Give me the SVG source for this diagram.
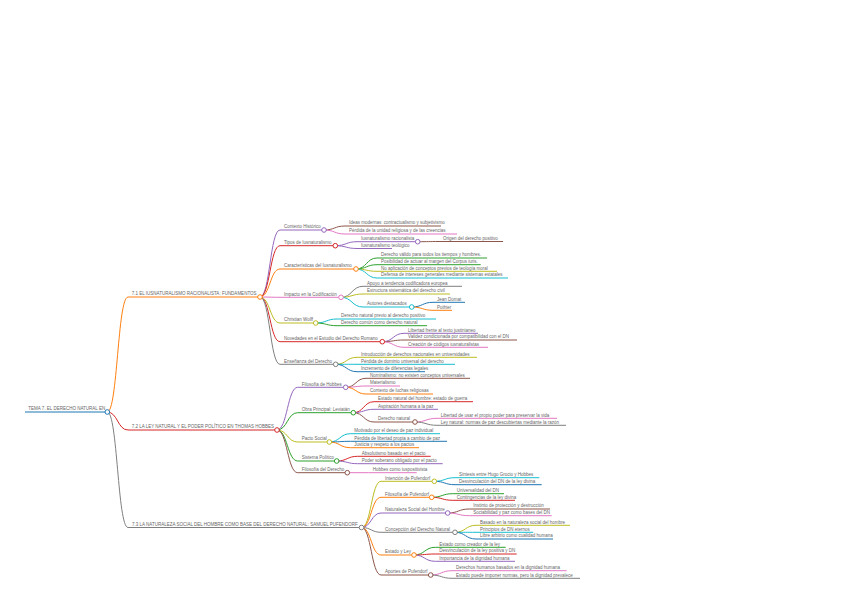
<svg xmlns="http://www.w3.org/2000/svg" width="848" height="599" viewBox="0 0 848 599">
<style>
text{font-family:"Liberation Sans",Arial,sans-serif;font-size:4.5px;fill:#666}
path{fill:none;stroke-width:1}
circle{fill:#fff;stroke-width:1}
.u{stroke:#1f77b4}.o{stroke:#ff7f0e}.g{stroke:#2ca02c}.r{stroke:#d62728}.p{stroke:#9467bd}
.b{stroke:#8c564b}.k{stroke:#e377c2}.y{stroke:#7f7f7f}.v{stroke:#bcbd22}.c{stroke:#17becf}
</style>
<rect width="848" height="599" fill="#fff"/>
<g id="connectors">
<path class="o" d="M107.3 412C117.6 412 117.6 297 128 297"/>
<path class="r" d="M107.3 412C117.6 412 117.6 430 128 430"/>
<path class="y" d="M107.3 412C117.6 412 117.6 527.5 128 527.5"/>
<path class="p" d="M260 297C270 297 270 230 280 230"/>
<path class="r" d="M260 297C270 297 270 245.7 280 245.7"/>
<path class="o" d="M260 297C270 297 270 269 280 269"/>
<path class="k" d="M260 297C270 297 270 297.3 280 297.3"/>
<path class="v" d="M260 297C270 297 270 323 280 323"/>
<path class="r" d="M260 297C270 297 270 341.7 280 341.7"/>
<path class="y" d="M260 297C270 297 270 364.3 280 364.3"/>
<path class="b" d="M324 230C334.5 230 334.5 226 345 226"/>
<path class="k" d="M324 230C334.5 230 334.5 234 345 234"/>
<path class="p" d="M335.3 245.7C346.2 245.7 346.2 241.7 357 241.7"/>
<path class="p" d="M335.3 245.7C346.2 245.7 346.2 248.5 357 248.5"/>
<path class="b" d="M417.7 241.7C428.4 241.7 428.4 241.5 439 241.5"/>
<path class="g" d="M356 269C366.5 269 366.5 258 377 258"/>
<path class="g" d="M356 269C366.5 269 366.5 264.7 377 264.7"/>
<path class="v" d="M356 269C366.5 269 366.5 271.3 377 271.3"/>
<path class="c" d="M356 269C366.5 269 366.5 278 377 278"/>
<path class="y" d="M341 297.3C352 297.3 352 286.3 363 286.3"/>
<path class="v" d="M341 297.3C352 297.3 352 294 363 294"/>
<path class="c" d="M341 297.3C352 297.3 352 307 363 307"/>
<path class="u" d="M411.7 307C422.4 307 422.4 302.3 433 302.3"/>
<path class="o" d="M411.7 307C422.4 307 422.4 310.3 433 310.3"/>
<path class="c" d="M315.7 323C326.4 323 326.4 319 337 319"/>
<path class="g" d="M315.7 323C326.4 323 326.4 325.7 337 325.7"/>
<path class="p" d="M382.3 341.7C393.2 341.7 393.2 333.3 404 333.3"/>
<path class="b" d="M382.3 341.7C393.2 341.7 393.2 340 404 340"/>
<path class="k" d="M382.3 341.7C393.2 341.7 393.2 347.3 404 347.3"/>
<path class="v" d="M335.7 364.3C346.4 364.3 346.4 357.3 357 357.3"/>
<path class="c" d="M335.7 364.3C346.4 364.3 346.4 364.3 357 364.3"/>
<path class="u" d="M335.7 364.3C346.4 364.3 346.4 371.7 357 371.7"/>
<path class="p" d="M277 430C287.4 430 287.4 387.3 297.7 387.3"/>
<path class="g" d="M277 430C287.4 430 287.4 412.7 297.7 412.7"/>
<path class="v" d="M277 430C287.4 430 287.4 442 297.7 442"/>
<path class="g" d="M277 430C287.4 430 287.4 461 297.7 461"/>
<path class="b" d="M277 430C287.4 430 287.4 472.7 297.7 472.7"/>
<path class="b" d="M345.7 387.3C355.9 387.3 355.9 378.3 366 378.3"/>
<path class="k" d="M345.7 387.3C355.9 387.3 355.9 386 366 386"/>
<path class="o" d="M345.7 387.3C355.9 387.3 355.9 394 366 394"/>
<path class="r" d="M353.3 412.7C363.7 412.7 363.7 401.7 374 401.7"/>
<path class="p" d="M353.3 412.7C363.7 412.7 363.7 409.3 374 409.3"/>
<path class="b" d="M353.3 412.7C363.7 412.7 363.7 422 374 422"/>
<path class="k" d="M415 422C426 422 426 418.3 437 418.3"/>
<path class="y" d="M415 422C426 422 426 425.3 437 425.3"/>
<path class="c" d="M329.3 442C339.9 442 339.9 433.7 350.5 433.7"/>
<path class="u" d="M329.3 442C339.9 442 339.9 441.3 350.5 441.3"/>
<path class="o" d="M329.3 442C339.9 442 339.9 447.7 350.5 447.7"/>
<path class="r" d="M336.7 461C347.2 461 347.2 456.3 357.7 456.3"/>
<path class="p" d="M336.7 461C347.2 461 347.2 463.7 357.7 463.7"/>
<path class="k" d="M347.3 472.7H368.7"/>
<path class="v" d="M361.5 527.5C371.3 527.5 371.3 481.3 381 481.3"/>
<path class="o" d="M361.5 527.5C371.3 527.5 371.3 497.3 381 497.3"/>
<path class="p" d="M361.5 527.5C371.3 527.5 371.3 513 381 513"/>
<path class="y" d="M361.5 527.5C371.3 527.5 371.3 532.3 381 532.3"/>
<path class="o" d="M361.5 527.5C371.3 527.5 371.3 555 381 555"/>
<path class="b" d="M361.5 527.5C371.3 527.5 371.3 575 381 575"/>
<path class="c" d="M434.3 481.3C444.7 481.3 444.7 477.7 455 477.7"/>
<path class="u" d="M434.3 481.3C444.7 481.3 444.7 484.7 455 484.7"/>
<path class="g" d="M431.7 497.3C442.2 497.3 442.2 493.7 452.7 493.7"/>
<path class="r" d="M431.7 497.3C442.2 497.3 442.2 500.3 452.7 500.3"/>
<path class="b" d="M447.7 513C458.5 513 458.5 509 469.3 509"/>
<path class="k" d="M447.7 513C458.5 513 458.5 515.7 469.3 515.7"/>
<path class="v" d="M455 532.3C465.5 532.3 465.5 525.3 476 525.3"/>
<path class="c" d="M455 532.3C465.5 532.3 465.5 532.3 476 532.3"/>
<path class="u" d="M455 532.3C465.5 532.3 465.5 539 476 539"/>
<path class="g" d="M414 555C424.7 555 424.7 547.3 435.3 547.3"/>
<path class="r" d="M414 555C424.7 555 424.7 554 435.3 554"/>
<path class="p" d="M414 555C424.7 555 424.7 561.3 435.3 561.3"/>
<path class="k" d="M430.7 575C441.4 575 441.4 570.7 452 570.7"/>
<path class="y" d="M430.7 575C441.4 575 441.4 578.3 452 578.3"/>
</g>
<g id="root"><path class="u" stroke-width="1.5" d="M25 412H107.3"/><text x="28.3" y="410.2">TEMA 7. EL DERECHO NATURAL EN</text><circle class="u" cx="107.3" cy="412" r="2.3"/></g>
<g id="b1"><path class="o" d="M128 297H260"/><text x="131.7" y="295.2">7.1 EL IUSNATURALISMO RACIONALISTA: FUNDAMENTOS</text><circle class="o" cx="260" cy="297" r="2.3"/></g>
<g id="b2"><path class="r" d="M128 430H277"/><text x="131.7" y="428.2">7.2 LA LEY NATURAL Y EL PODER POLÍTICO EN THOMAS HOBBES</text><circle class="r" cx="277" cy="430" r="2.3"/></g>
<g id="b3"><path class="y" d="M128 527.5H361.5"/><text x="132" y="525.7">7.3 LA NATURALEZA SOCIAL DEL HOMBRE COMO BASE DEL DERECHO NATURAL: SAMUEL PUFENDORF</text><circle class="y" cx="361.5" cy="527.5" r="2.3"/></g>

<g id="n-contexto"><path class="p" d="M280 230H324"/><text x="284" y="228.2">Contexto Histórico</text><circle class="p" cx="324" cy="230" r="2.3"/></g>
<g id="n-ideas"><path class="b" d="M345 226H441"/><text x="349" y="224.2">Ideas modernas: contractualismo y subjetivismo</text></g>
<g id="n-perdida1"><path class="k" d="M345 234H457"/><text x="349" y="232.2">Pérdida de la unidad religiosa y de las creencias</text></g>
<g id="n-tipos"><path class="r" d="M280 245.7H335.3"/><text x="284" y="243.9">Tipos de Iusnaturalismo</text><circle class="r" cx="335.3" cy="245.7" r="2.3"/></g>
<g id="n-racional"><path class="p" d="M357 241.7H417.7"/><text x="361" y="239.9">Iusnaturalismo racionalista</text><circle class="p" cx="417.7" cy="241.7" r="2.3"/></g>
<g id="n-origen"><path class="b" d="M439 241.5H503"/><text x="443" y="239.7">Origen del derecho positivo</text></g>
<g id="n-teologico"><path class="p" d="M357 248.5H392"/><text x="361" y="246.7">Iusnaturalismo teológico</text></g>
<g id="n-caract"><path class="o" d="M280 269H356"/><text x="284" y="267.2">Características del Iusnaturalismo</text><circle class="o" cx="356" cy="269" r="2.3"/></g>
<g id="n-valido"><path class="g" d="M377 258H487"/><text x="381" y="256.2">Derecho válido para todos los tiempos y hombres.</text></g>
<g id="n-posib"><path class="g" d="M377 264.7H480.7"/><text x="381" y="262.9">Posibilidad de actuar al margen del Corpus iuris.</text></g>
<g id="n-noapl"><path class="v" d="M377 271.3H497"/><text x="381" y="269.5">No aplicación de conceptos previos de teología moral</text></g>
<g id="n-defensa"><path class="c" d="M377 278H508"/><text x="381" y="276.2">Defensa de intereses generales mediante sistemas estatales</text></g>
<g id="n-impacto"><path class="k" d="M280 297.3H341"/><text x="284" y="295.5">Impacto en la Codificación</text><circle class="k" cx="341" cy="297.3" r="2.3"/></g>
<g id="n-apoyo"><path class="y" d="M363 286.3H462"/><text x="367" y="284.5">Apoyo a tendencia codificadora europea</text></g>
<g id="n-estructura"><path class="v" d="M363 294H450"/><text x="367" y="292.2">Estructura sistemática del derecho civil</text></g>
<g id="n-autores"><path class="c" d="M363 307H411.7"/><text x="367" y="305.2">Autores destacados</text><circle class="c" cx="411.7" cy="307" r="2.3"/></g>
<g id="n-domat"><path class="u" d="M433 302.3H465"/><text x="437" y="300.5">Jean Domat</text></g>
<g id="n-pothier"><path class="o" d="M433 310.3H452"/><text x="437" y="308.5">Pothier</text></g>
<g id="n-wolff"><path class="v" d="M280 323H315.7"/><text x="284" y="321.2">Christian Wolff</text><circle class="v" cx="315.7" cy="323" r="2.3"/></g>
<g id="n-previo"><path class="c" d="M337 319H436"/><text x="341" y="317.2">Derecho natural previo al derecho positivo</text></g>
<g id="n-comun"><path class="g" d="M337 325.7H427"/><text x="341" y="323.9">Derecho común como derecho natural</text></g>
<g id="n-novedades"><path class="r" d="M280 341.7H382.3"/><text x="284" y="339.9">Novedades en el Estudio del Derecho Romano</text><circle class="r" cx="382.3" cy="341.7" r="2.3"/></g>
<g id="n-libertad1"><path class="p" d="M404 333.3H478"/><text x="408" y="331.5">Libertad frente al texto justinianeo</text></g>
<g id="n-validez"><path class="b" d="M404 340H517"/><text x="408" y="338.2">Validez condicionada por compatibilidad con el DN</text></g>
<g id="n-creacion"><path class="k" d="M404 347.3H488"/><text x="408" y="345.5">Creación de códigos iusnaturalistas</text></g>
<g id="n-ensenanza"><path class="y" d="M280 364.3H335.7"/><text x="284" y="362.5">Enseñanza del Derecho</text><circle class="y" cx="335.7" cy="364.3" r="2.3"/></g>
<g id="n-intro"><path class="v" d="M357 357.3H477"/><text x="361" y="355.5">Introducción de derechos nacionales en universidades</text></g>
<g id="n-perdida2"><path class="c" d="M357 364.3H455"/><text x="361" y="362.5">Pérdida de dominio universal del derecho</text></g>
<g id="n-incremento"><path class="u" d="M357 371.7H425"/><text x="361" y="369.9">Incremento de diferencias legales</text></g>

<g id="n-filhobbes"><path class="p" d="M297.7 387.3H345.7"/><text x="301.7" y="385.5">Filosofía de Hobbes</text><circle class="p" cx="345.7" cy="387.3" r="2.3"/></g>
<g id="n-nominal"><path class="b" d="M366 378.3H470"/><text x="370" y="376.5">Nominalismo: no existen conceptos universales</text></g>
<g id="n-material"><path class="k" d="M366 386H400"/><text x="370" y="384.2">Materialismo</text></g>
<g id="n-luchas"><path class="o" d="M366 394H433"/><text x="370" y="392.2">Contexto de luchas religiosas</text></g>
<g id="n-obra"><path class="g" d="M297.7 412.7H353.3"/><text x="301.7" y="410.9">Obra Principal: Leviatán</text><circle class="g" cx="353.3" cy="412.7" r="2.3"/></g>
<g id="n-estadonat"><path class="r" d="M374 401.7H473"/><text x="378" y="399.9">Estado natural del hombre: estado de guerra</text></g>
<g id="n-aspira"><path class="p" d="M374 409.3H438"/><text x="378" y="407.5">Aspiración humana a la paz</text></g>
<g id="n-dnat"><path class="b" d="M374 422H415"/><text x="378" y="420.2">Derecho natural</text><circle class="b" cx="415" cy="422" r="2.3"/></g>
<g id="n-libertad2"><path class="k" d="M437 418.3H557"/><text x="440.7" y="416.5">Libertad de usar el propio poder para preservar la vida</text></g>
<g id="n-leynat"><path class="y" d="M437 425.3H566"/><text x="440.7" y="423.5">Ley natural: normas de paz descubiertas mediante la razón</text></g>
<g id="n-pacto"><path class="v" d="M297.7 442H329.3"/><text x="301.7" y="440.2">Pacto Social</text><circle class="v" cx="329.3" cy="442" r="2.3"/></g>
<g id="n-motivado"><path class="c" d="M350.5 433.7H440"/><text x="354.3" y="431.9">Motivado por el deseo de paz individual</text></g>
<g id="n-perdlib"><path class="u" d="M350.5 441.3H447"/><text x="354.3" y="439.5">Pérdida de libertad propia a cambio de paz</text></g>
<g id="n-justicia"><path class="o" d="M350.5 447.7H419"/><text x="354.3" y="445.9">Justicia y respeto a los pactos</text></g>
<g id="n-sistema"><path class="g" d="M297.7 461H336.7"/><text x="301.7" y="459.2">Sistema Político</text><circle class="g" cx="336.7" cy="461" r="2.3"/></g>
<g id="n-absol"><path class="r" d="M357.7 456.3H430.7"/><text x="361.7" y="454.5">Absolutismo basado en el pacto</text></g>
<g id="n-poder"><path class="p" d="M357.7 463.7H442.7"/><text x="361.7" y="461.9">Poder soberano obligado por el pacto</text></g>
<g id="n-filder"><path class="b" d="M297.7 472.7H347.3"/><text x="301.7" y="470.9">Filosofía del Derecho</text><circle class="b" cx="347.3" cy="472.7" r="2.3"/></g>
<g id="n-iuspos"><path class="k" d="M368.7 472.7H416.7"/><text x="372.7" y="470.9">Hobbes como iuspositivista</text></g>

<g id="n-intencion"><path class="v" d="M381 481.3H434.3"/><text x="385" y="479.5">Intención de Pufendorf</text><circle class="v" cx="434.3" cy="481.3" r="2.3"/></g>
<g id="n-sintesis"><path class="c" d="M455 477.7H539.3"/><text x="459" y="475.9">Síntesis entre Hugo Grocio y Hobbes</text></g>
<g id="n-desv1"><path class="u" d="M455 484.7H541.7"/><text x="459" y="482.9">Desvinculación del DN de la ley divina</text></g>
<g id="n-filpuf"><path class="o" d="M381 497.3H431.7"/><text x="385" y="495.5">Filosofía de Pufendorf</text><circle class="o" cx="431.7" cy="497.3" r="2.3"/></g>
<g id="n-univ"><path class="g" d="M452.7 493.7H504"/><text x="456.7" y="491.9">Universalidad del DN</text></g>
<g id="n-conting"><path class="r" d="M452.7 500.3H515"/><text x="456.7" y="498.5">Contingencias de la ley divina</text></g>
<g id="n-natsoc"><path class="p" d="M381 513H447.7"/><text x="385" y="511.2">Naturaleza Social del Hombre</text><circle class="p" cx="447.7" cy="513" r="2.3"/></g>
<g id="n-instinto"><path class="b" d="M469.3 509H550"/><text x="473.3" y="507.2">Instinto de protección y destrucción</text></g>
<g id="n-sociab"><path class="k" d="M469.3 515.7H551.7"/><text x="473.3" y="513.9">Sociabilidad y paz como bases del DN</text></g>
<g id="n-concep"><path class="y" d="M381 532.3H455"/><text x="385" y="530.5">Concepción del Derecho Natural</text><circle class="y" cx="455" cy="532.3" r="2.3"/></g>
<g id="n-basado"><path class="v" d="M476 525.3H570"/><text x="480" y="523.5">Basado en la naturaleza social del hombre</text></g>
<g id="n-princ"><path class="c" d="M476 532.3H533.3"/><text x="480" y="530.5">Principios de DN eternos</text></g>
<g id="n-libre"><path class="u" d="M476 539H553"/><text x="480" y="537.2">Libre arbitrio como cualidad humana</text></g>
<g id="n-estley"><path class="o" d="M381 555H414"/><text x="385" y="553.2">Estado y Ley</text><circle class="o" cx="414" cy="555" r="2.3"/></g>
<g id="n-creador"><path class="g" d="M435.3 547.3H505.7"/><text x="439.3" y="545.5">Estado como creador de la ley</text></g>
<g id="n-desv2"><path class="r" d="M435.3 554H516.7"/><text x="439.3" y="552.2">Desvinculación de la ley positiva y DN</text></g>
<g id="n-import"><path class="p" d="M435.3 561.3H515"/><text x="439.3" y="559.5">Importancia de la dignidad humana</text></g>
<g id="n-aportes"><path class="b" d="M381 575H430.7"/><text x="385" y="573.2">Aportes de Pufendorf</text><circle class="b" cx="430.7" cy="575" r="2.3"/></g>
<g id="n-ddhh"><path class="k" d="M452 570.7H566.7"/><text x="456" y="568.9">Derechos humanos basados en la dignidad humana</text></g>
<g id="n-imponer"><path class="y" d="M452 578.3H580"/><text x="456" y="576.5">Estado puede imponer normas, pero la dignidad prevalece</text></g>
</svg>
